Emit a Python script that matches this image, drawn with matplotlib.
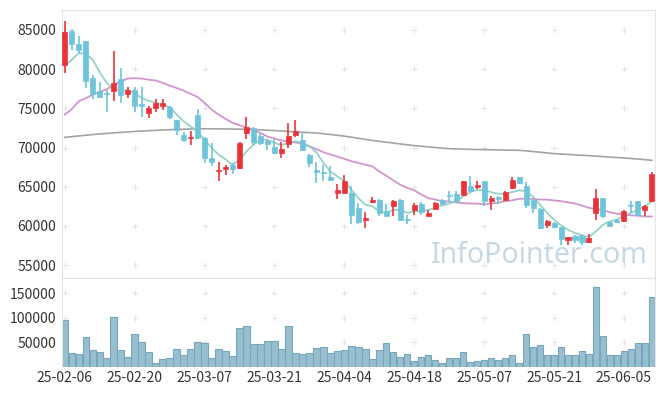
import numpy as np
import pandas as pd
import matplotlib
matplotlib.use("Agg")
import matplotlib.pyplot as plt

plt.rcParams["font.family"] = ["Noto Sans CJK KR", "DejaVu Sans"]

# trading days (KRX holidays removed)
holidays = ["2025-03-03", "2025-05-01", "2025-05-05", "2025-05-06", "2025-06-03", "2025-06-06"]
dates = [d for d in pd.bdate_range("2025-02-06", "2025-06-12") if d.strftime("%Y-%m-%d") not in holidays]

opens = [80500, 84900, 83250, 83600, 78900, 77150, 77000, 77150, 78800, 76850,
         77350, 75600, 74400, 75050, 75300, 75200, 73450, 71650, 71200, 74100,
         71200, 68650, 66950, 67250, 67800, 67350, 71850, 72500, 71500, 70800,
         70100, 69250, 70500, 71550, 71000, 69100, 67150, 66850, 66250, 64250,
         64200, 64200, 62300, 60700, 63000, 63350, 61950, 62600, 63350, 60900,
         62000, 62850, 61300, 62200, 63350, 64000, 64100, 64000, 65150, 64900,
         65700, 63150, 63700, 63350, 64850, 66250, 65150, 63250, 62150, 60150,
         60350, 59800, 58250, 58650, 58750, 57900, 61650, 63550, 60450, 60800,
         60650, 62700, 63150, 62000, 63150]
highs = [86200, 85100, 84250, 83650, 79250, 78300, 77300, 82350, 80150, 77700,
         77700, 77700, 75350, 76200, 76200, 75350, 73500, 71950, 72050, 74900,
         71300, 70550, 68150, 67800, 68050, 70750, 73900, 72600, 71800, 71100,
         71100, 70650, 73150, 73450, 72000, 69200, 68150, 67800, 67600, 65350,
         66450, 65150, 62900, 61800, 63700, 63400, 62850, 63250, 63400, 61400,
         62900, 63000, 62050, 63000, 63400, 64400, 64400, 65700, 66400, 65700,
         65700, 63750, 63750, 64400, 66300, 66300, 65550, 63300, 62300, 60800,
         60450, 59900, 58600, 58800, 58900, 58900, 64700, 63600, 60500, 60900,
         62050, 63150, 63200, 62650, 66850]
lows = [79500, 82500, 81900, 77600, 76200, 76450, 74550, 75950, 75700, 76300,
        74550, 73900, 73800, 74550, 74750, 73700, 71650, 70650, 70350, 71100,
        68050, 67700, 65750, 66550, 66650, 67250, 71100, 70300, 70300, 69700,
        69200, 68650, 69950, 71400, 69600, 67500, 65500, 65700, 65700, 63450,
        64100, 60300, 60300, 59750, 62900, 61300, 61200, 61300, 60650, 60300,
        61450, 61450, 61200, 62000, 62700, 63000, 62900, 63950, 64400, 64700,
        62500, 62050, 62850, 63300, 64700, 65400, 62300, 61700, 59600, 59750,
        59750, 57600, 57600, 57800, 57500, 57800, 60800, 61000, 59850, 60350,
        60550, 61650, 61200, 61200, 63100]
closes = [84750, 83150, 82500, 78450, 76850, 76500, 76850, 78250, 76650, 77300,
          75250, 75250, 75050, 75700, 75700, 73850, 72200, 71000, 71400, 71150,
          68650, 68100, 67150, 67450, 67250, 70600, 72600, 70650, 70600, 70450,
          69250, 69850, 71500, 72150, 69650, 68050, 66850, 66700, 65800, 64600,
          65700, 61350, 60500, 61000, 63350, 61650, 61200, 63200, 60700, 60700,
          62700, 61750, 61650, 62900, 62850, 63750, 63150, 65700, 64500, 65250,
          63150, 63550, 63450, 64350, 65900, 65450, 62700, 62300, 59750, 60600,
          59800, 58350, 58600, 58150, 57900, 58450, 63550, 61200, 59950, 60450,
          61850, 62600, 61450, 62600, 66650]
ma5 = [80350, 81200, 82050, 81950, 81200, 79600, 78250, 77450, 77300, 77300,
       76950, 76300, 75950, 75750, 75450, 75150, 74200, 73350, 72700, 72050,
       71000, 69950, 69100, 68500, 67800, 68450, 69500, 70350, 71000, 71000,
       70600, 70300, 70600, 70800, 70600, 70150, 69400, 68050, 66950, 66300,
       65700, 64600, 63550, 62700, 62500, 61850, 61650, 62050, 62050, 61650,
       61850, 61850, 62050, 62300, 62600, 62850, 63150, 63750, 64300, 64600,
       64550, 64300, 64100, 64100, 64300, 64550, 64400, 63750, 62700, 61650,
       60800, 60050, 59500, 59100, 58750, 58600, 59300, 60150, 60600, 60800,
       61300, 61650, 62050, 62500, 63150]
ma20 = [74200, 74900, 75900, 76300, 76750, 77100, 77450, 77950, 78450, 78800,
        78850, 78800, 78650, 78550, 78250, 77900, 77600, 77250, 76850, 76450,
        75700, 74850, 74200, 73650, 73150, 72850, 72500, 72200, 71850, 71400,
        71150, 70900, 70800, 70650, 70450, 70150, 69800, 69400, 69100, 68850,
        68550, 68250, 68050, 67800, 67600, 66950, 66400, 65800, 65250, 64850,
        64550, 64000, 63550, 63350, 63150, 63100, 63000, 62900, 62850, 62850,
        62750, 62850, 62950, 63150, 63250, 63450, 63450, 63450, 63350, 63350,
        63250, 63150, 63000, 62850, 62600, 62300, 62150, 62000, 61750, 61550,
        61450, 61350, 61300, 61200, 61200]
ma120 = [71300, 71390, 71480, 71570, 71650, 71730, 71800, 71870, 71930, 71990,
         72050, 72100, 72150, 72190, 72230, 72270, 72300, 72330, 72360, 72380,
         72390, 72390, 72380, 72370, 72360, 72340, 72320, 72290, 72250, 72200,
         72160, 72110, 72060, 72000, 71950, 71900, 71850, 71760, 71660, 71560,
         71450, 71320, 71180, 71040, 70900, 70790, 70680, 70570, 70460, 70350,
         70240, 70160, 70080, 70000, 69920, 69850, 69820, 69790, 69760, 69740,
         69730, 69710, 69690, 69670, 69660, 69640, 69570, 69490, 69400, 69310,
         69220, 69170, 69120, 69060, 69010, 68960, 68900, 68840, 68780, 68720,
         68670, 68600, 68530, 68450, 68360]
volume = [95400, 28700, 26700, 60700, 35400, 31400, 18700, 100700, 35400, 20700,
          66700, 50700, 30700, 8700, 16700, 18700, 36700, 24700, 36700, 50700,
          48700, 18700, 36700, 32700, 22700, 78700, 82700, 46700, 46700, 52700,
          52700, 36700, 82700, 28700, 26700, 28700, 38700, 40700, 28700, 32700,
          34700, 42700, 40700, 36700, 16700, 34700, 48700, 30700, 20700, 26700,
          12700, 20700, 24700, 14700, 8700, 18700, 18700, 30700, 10700, 12700,
          14700, 18700, 14700, 18700, 24700, 8700, 66700, 40700, 44700, 24700,
          24700, 40700, 24700, 24700, 32700, 26700, 163400, 62700, 24700, 24700,
          32700, 36700, 48700, 48700, 142700]
price_ticks = [55000, 60000, 65000, 70000, 75000, 80000, 85000]
vol_ticks = [50000, 100000, 150000]

UP, DOWN = "#ea3339", "#6ec4da"
GRID = "#e3e3e3"
x = np.arange(len(dates))
xt = x[::10]
xt_labels = [dates[i].strftime("%y-%m-%d") for i in xt]
o, h, l, c = map(np.array, (opens, highs, lows, closes))
cols = np.where(c >= o, UP, DOWN)

fig = plt.figure(figsize=(6.65, 3.96), dpi=100)
ax = fig.add_axes([0.0932, 0.298, 0.8918, 0.6768])
axv = fig.add_axes([0.0932, 0.0732, 0.8918, 0.2248], sharex=ax)

# grid crosses
gx, gy = np.meshgrid(xt, price_ticks)
ax.scatter(gx.ravel(), gy.ravel(), marker="+", s=16, color=GRID, lw=0.7, zorder=0)
gx, gy = np.meshgrid(xt, vol_ticks)
axv.scatter(gx.ravel(), gy.ravel(), marker="+", s=16, color=GRID, lw=0.7, zorder=0)

ax.text(0.988, 0.085, "InfoPointer.com", transform=ax.transAxes, ha="right", va="center",
        fontsize=20.5, color="#c6d8e4", family="Noto Sans", zorder=0)

ax.plot(x, ma120, color="#999999", lw=1.2, alpha=0.9, zorder=2)
ax.plot(x, ma20, color="#cc8ac8", lw=1.3, alpha=0.9, zorder=2)
ax.plot(x, ma5, color="#8ccebf", lw=1.3, alpha=0.9, zorder=2)
ax.vlines(x, l, h, colors=cols, lw=1.2, zorder=3)
ax.bar(x, np.abs(c - o), bottom=np.minimum(o, c), width=0.72, color=cols,
       edgecolor=cols, lw=0.5, zorder=4)

axv.bar(x, volume, width=0.92, color="#97bfd0", edgecolor="#78a6bb", lw=0.8)

ax.set_xlim(-0.4, 84.45)
ax.set_ylim(53350, 87550)
axv.set_ylim(0, 181000)
ax.set_yticks(price_ticks)
axv.set_yticks(vol_ticks)
axv.set_xticks(xt)
axv.set_xticklabels(xt_labels)
ax.tick_params(axis="x", labelbottom=False, length=0)
for a in (ax, axv):
    a.tick_params(length=0, labelsize=10, colors="#333333", pad=4)
    for s in a.spines.values():
        s.set_color("#e4e4e4")
axv.spines["bottom"].set_visible(False)
axv.tick_params(axis="x", pad=3)

fig.savefig("out.png", dpi=100)
